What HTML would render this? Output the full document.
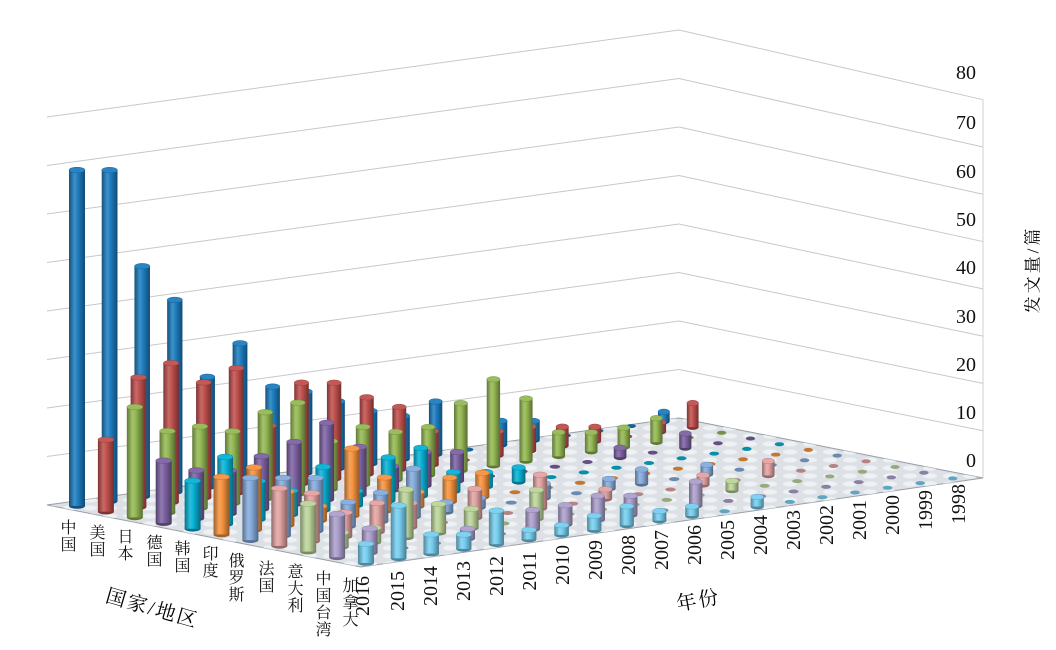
<!DOCTYPE html>
<html><head><meta charset="utf-8">
<style>
html,body{margin:0;padding:0;background:#fff;}
#wrap{position:relative;width:1056px;height:650px;overflow:hidden;font-family:"Liberation Serif","Noto Serif CJK SC",serif;}
svg{position:absolute;left:0;top:0;}
.yl{position:absolute;font-size:20px;color:#111;text-align:right;width:40px;left:936px;line-height:20px;}
.yr{position:absolute;font-size:20px;color:#111;line-height:20px;transform:rotate(-90deg);transform-origin:center;width:46px;text-align:center;}
.cn{position:absolute;font-size:16px;color:#111;writing-mode:vertical-rl;line-height:17px;font-family:"Liberation Serif","Noto Serif CJK SC",serif;letter-spacing:1px;}
</style></head><body>
<div id="wrap">
<svg id="s" width="1056" height="650" viewBox="0 0 1056 650"></svg>
<div class="yl" style="top:63px">80</div>
<div class="yl" style="top:113px">70</div>
<div class="yl" style="top:162px">60</div>
<div class="yl" style="top:210px">50</div>
<div class="yl" style="top:258px">40</div>
<div class="yl" style="top:307px">30</div>
<div class="yl" style="top:355px">20</div>
<div class="yl" style="top:403px">10</div>
<div class="yl" style="top:451px">0</div>
<div style="position:absolute;left:981px;top:257px;width:100px;text-align:center;font-size:17px;transform:rotate(-90deg);letter-spacing:3px;">发文量/篇</div>
<div class="cn" style="left:58px;top:519px">中国</div>
<div class="cn" style="left:87px;top:524px">美国</div>
<div class="cn" style="left:115px;top:528px">日本</div>
<div class="cn" style="left:144px;top:534px">德国</div>
<div class="cn" style="left:172px;top:540px">韩国</div>
<div class="cn" style="left:200px;top:545px">印度</div>
<div class="cn" style="left:226px;top:552px">俄罗斯</div>
<div class="cn" style="left:256px;top:560px">法国</div>
<div class="cn" style="left:285px;top:563px">意大利</div>
<div class="cn" style="left:313px;top:570px">中国台湾</div>
<div class="cn" style="left:340px;top:577px">加拿大</div>
<div style="position:absolute;left:105px;top:592px;font-size:20px;transform:rotate(16deg);letter-spacing:2px;">国家/地区</div>
<div style="position:absolute;left:676px;top:584px;font-size:20px;transform:rotate(-10deg);letter-spacing:2px;">年份</div>
<div class="yr" style="left:340px;top:586px">2016</div>
<div class="yr" style="left:375px;top:581px">2015</div>
<div class="yr" style="left:408px;top:576px">2014</div>
<div class="yr" style="left:441px;top:571px">2013</div>
<div class="yr" style="left:474px;top:566px">2012</div>
<div class="yr" style="left:507px;top:561px">2011</div>
<div class="yr" style="left:540px;top:555px">2010</div>
<div class="yr" style="left:573px;top:550px">2009</div>
<div class="yr" style="left:606px;top:545px">2008</div>
<div class="yr" style="left:639px;top:540px">2007</div>
<div class="yr" style="left:672px;top:535px">2006</div>
<div class="yr" style="left:705px;top:530px">2005</div>
<div class="yr" style="left:738px;top:525px">2004</div>
<div class="yr" style="left:771px;top:520px">2003</div>
<div class="yr" style="left:804px;top:515px">2002</div>
<div class="yr" style="left:837px;top:510px">2001</div>
<div class="yr" style="left:870px;top:505px">2000</div>
<div class="yr" style="left:903px;top:500px">1999</div>
<div class="yr" style="left:936px;top:494px">1998</div>
</div>
<script>
(function(){
var NS="http://www.w3.org/2000/svg",s=document.getElementById("s");
function el(t,a,p){var e=document.createElementNS(NS,t);for(var k in a)e.setAttribute(k,a[k]);(p||s).appendChild(e);return e;}
var cols=["#1d7dc0","#c0504d","#94b853","#7d63a3","#08b2d6","#f5933f","#86acdc","#e3a3a3","#bcd59a","#ada0cc","#78cff0"];
var data=[
[70,69,48,40,23,29,19,17,14,11,9,11,0,5,4,0,0,0,2],
[15,27,29,24,26,13,21,20,16,13,7,0,5,5,4,3,0,2,5],
[23,17,17,15,18,19,10,12,10,10,14,18,13,5,4,4,5,0,0],
[13,10,9,11,13,16,10,5,7,6,0,0,0,0,2,0,3,0,0],
[10,14,8,5,9,3,9,10,4,3,3,0,0,0,0,0,0,0,0],
[12,13,7,3,14,7,3,5,5,0,0,0,0,0,0,0,0,0,0],
[13,12,11,5,6,10,2,2,0,3,0,2,3,0,2,0,0,0,0],
[12,10,5,6,5,0,6,0,7,0,2,0,0,2,0,3,0,0,0],
[10,3,3,10,6,4,0,6,0,0,0,0,0,2,0,0,0,0,0],
[9,5,0,0,2,0,4,4,5,4,0,5,0,0,0,0,0,0,0],
[4,11,4,3,7,2,2,3,4,2,2,0,2,0,0,0,0,0,0]];
function P(c,y){return [77+28.9*c+32.6*y+0.7*y*c*0, 506+5.7*c-4.7*y];}
var defs=el("defs",{});
function shade(h,f){var n=parseInt(h.slice(1),16),r=n>>16,g=n>>8&255,b=n&255;
 function m(v){return f<0?Math.round(v*(1+f)):Math.round(v+(255-v)*f);}
 return "rgb("+m(r)+","+m(g)+","+m(b)+")";}
cols.forEach(function(c,i){
 var g=el("linearGradient",{id:"g"+i,x1:"0",x2:"1",y1:"0",y2:"0"},defs);
 [[0,shade(c,-0.35)],[0.35,shade(c,0.15)],[0.55,c],[1,shade(c,-0.4)]].forEach(function(st){el("stop",{offset:st[0],"stop-color":st[1]},g);});
});
// walls grid
var A=[47,505],B=[679,418],R=[983,478],F=[351+10,567];
for(var k=0;k<=8;k++){var h=k*48.5;
 el("polyline",{points:A[0]+","+(A[1]-h)+" "+B[0]+","+(B[1]-h)+" "+R[0]+","+(R[1]-h*0.975),fill:"none",stroke:"#c8c8cc","stroke-width":1});}
el("line",{x1:R[0],y1:R[1],x2:R[0],y2:R[1]-8*47.3,stroke:"#d0d0d4","stroke-width":1});
// floor
el("polygon",{points:[A,F,R,B].map(function(p){return p.join(",")}).join(" "),fill:"#dde1e6",stroke:"#9aa0a8","stroke-width":1});
var fp=el("pattern",{id:"fp",width:"20",height:"8",patternUnits:"userSpaceOnUse"},defs);
el("ellipse",{cx:10,cy:4,rx:7,ry:2.5,fill:"#f4f6f8"},fp);
el("polygon",{points:[A,F,R,B].map(function(p){return p.join(",")}).join(" "),fill:"url(#fp)",opacity:0.8});
var bars=[];
for(var c=0;c<11;c++)for(var y=0;y<19;y++){var p=P(c,y);bars.push({c:c,y:y,x:p[0],b:p[1],v:data[c][y]});}
bars.sort(function(a,b){return a.b-b.b||a.x-b.x;});
bars.forEach(function(o){
 var w=8-o.y*0.12, col=cols[o.c];
 if(o.v===0){el("ellipse",{cx:o.x,cy:o.b,rx:w*0.8,ry:2,fill:shade(col,-0.2)});return;}
 var h=o.v*4.8,t=o.b-h;
 el("ellipse",{cx:o.x,cy:o.b,rx:w,ry:2.8,fill:shade(col,-0.35)});
 el("rect",{x:o.x-w,y:t,width:2*w,height:h,fill:"url(#g"+o.c+")"});
 el("ellipse",{cx:o.x,cy:t,rx:w,ry:2.8,fill:shade(col,0.05),stroke:shade(col,-0.2),"stroke-width":0.5});
});
})();
</script>
</body></html>
